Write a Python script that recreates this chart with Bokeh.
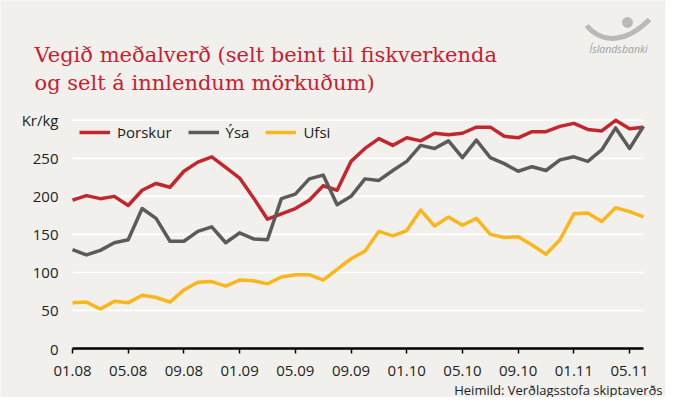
from bokeh.plotting import figure
from bokeh.models import FixedTicker, Label
from bokeh.embed import file_html
from bokeh.resources import INLINE

# ---- data (monthly, Jan 2008 .. Jun 2011) ----
months = list(range(42))
thorskur = [195, 201, 197, 200, 188, 208, 217, 212, 233, 245, 252, 238, 224,
            198, 170, 177, 184, 195, 214, 208, 246, 263, 276, 267, 277,
            273, 283, 281, 283, 291, 291, 279, 277, 285, 285, 292, 296,
            288, 286, 300, 289, 291]
ysa = [130, 123, 129, 139, 143, 184, 171, 141, 141, 154, 160, 139, 152,
       144, 143, 197, 203, 223, 228, 189, 200, 223, 221, 234, 246,
       267, 263, 273, 251, 274, 251, 243, 233, 239, 234, 248, 252,
       246, 261, 290, 263, 292]
ufsi = [60, 61, 52, 62, 60, 70, 67, 61, 77, 87, 88, 82, 90,
        89, 85, 94, 97, 97, 90, 104, 118, 128, 154, 148, 155,
        182, 161, 173, 162, 171, 150, 146, 147, 136, 124, 143, 177,
        178, 167, 185, 180, 173]
series_names = ["Þorskur", "Ýsa", "Ufsi"]
tick_positions = [0, 4, 8, 12, 16, 20, 24, 28, 32, 36, 40]
tick_labels = ["01.08", "05.08", "09.08", "01.09", "05.09", "09.09",
               "01.10", "05.10", "09.10", "01.11", "05.11"]
y_ticks = [0, 50, 100, 150, 200, 250, 300]
y_unit = "Kr/kg"
title_lines = ["Vegið meðalverð (selt beint til fiskverkenda",
               "og selt á innlendum mörkuðum)"]
source_text = "Heimild: Verðlagsstofa skiptaverðs"
logo_text = "Íslandsbanki"

# ---- geometry (pixels of the canvas, from top-left) ----
FW, FH = 665, 397
PX_LEFT, PX_RIGHT = 72, 643        # x of first / last month
PX_ZERO, PX_TOP = 348, 116         # y of value 0 / value 305
X_LAST, Y_TOP = 41, 305
kx = (PX_RIGHT - PX_LEFT) / X_LAST
ky = (PX_ZERO - PX_TOP) / Y_TOP
x_range = (-PX_LEFT / kx, X_LAST + (FW - PX_RIGHT) / kx)
y_range = (-(FH - PX_ZERO) / ky, PX_ZERO / ky)


def dx(px):
    return (px - PX_LEFT) / kx


def dy(py):
    return (PX_ZERO - py) / ky


BG = "#f1f0ed"
RED = "#c1272d"
GREY = "#5b5b5b"
YELLOW = "#fbb61b"
TXT = "#222222"
SANS = "Open Sans"
LOGO = "#b9b9b9"

p = figure(width=FW, height=FH, x_range=x_range, y_range=y_range,
           output_backend="svg", toolbar_location=None, min_border=0)
p.title = None
p.background_fill_color = BG
p.border_fill_color = BG
p.outline_line_color = None
p.xgrid.visible = False
p.ygrid.visible = False

# horizontal grid lines at the y ticks
grid_y = [t for t in y_ticks if t > 0]
p.segment(x0=[0] * len(grid_y), x1=[X_LAST] * len(grid_y), y0=grid_y,
          y1=grid_y, line_color="white", line_width=1.6)

for vals, name, col in [(thorskur, series_names[0], RED),
                        (ysa, series_names[1], GREY),
                        (ufsi, series_names[2], YELLOW)]:
    p.line(months, vals, line_color=col, line_width=3.5, line_join="round",
           legend_label=name)

xa = p.xaxis[0]
xa.fixed_location = 0
xa.bounds = (0, X_LAST)
xa.ticker = FixedTicker(ticks=tick_positions)
xa.major_label_overrides = {t: l for t, l in zip(tick_positions, tick_labels)}
xa.axis_line_color = "black"
xa.axis_line_width = 2.5
xa.major_tick_line_color = "black"
xa.major_tick_line_width = 1.5
xa.major_tick_in = 0
xa.major_tick_out = 5
xa.minor_tick_line_color = None
xa.major_label_text_font = SANS
xa.major_label_text_font_size = "15px"
xa.major_label_text_color = TXT
xa.major_label_standoff = 12

ya = p.yaxis[0]
ya.fixed_location = 0
ya.bounds = (0, 300)
ya.ticker = FixedTicker(ticks=y_ticks)
ya.major_label_overrides = {300: y_unit}
ya.axis_line_color = None
ya.major_tick_line_color = None
ya.minor_tick_line_color = None
ya.major_label_text_font = SANS
ya.major_label_text_font_size = "15px"
ya.major_label_text_color = TXT
ya.major_label_standoff = 8

lg = p.legend[0]
lg.orientation = "horizontal"
lg.location = (79, FH - 142)
lg.background_fill_alpha = 0
lg.border_line_color = None
lg.padding = 0
lg.margin = 0
lg.spacing = 16
lg.glyph_width = 31
lg.glyph_height = 20
lg.label_height = 20
lg.label_standoff = 7
lg.label_text_font = SANS
lg.label_text_font_size = "15px"
lg.label_text_color = TXT

# title
for i, line in enumerate(title_lines):
    p.add_layout(Label(x=dx(34), y=dy(54 + 28 * i), text=line,
                       text_font="DejaVu Serif", text_font_size="21px",
                       text_color="#c8202f", text_baseline="alphabetic"))

# logo
p.bezier(x0=[dx(586)], y0=[dy(25)], x1=[dx(649)], y1=[dy(19)],
         cx0=[dx(602)], cy0=[dy(44)], cx1=[dx(626)], cy1=[dy(42)],
         line_color=LOGO, line_width=5)
p.scatter([dx(627)], [dy(22)], size=10, color=LOGO)
p.add_layout(Label(x=dx(618), y=dy(48), text=logo_text, text_align="center",
                   text_baseline="middle", text_font=SANS,
                   text_font_style="italic", text_font_size="10.5px",
                   text_color="#a0a0a0"))

# source
p.add_layout(Label(x=dx(662), y=dy(389), text=source_text, text_align="right",
                   text_baseline="alphabetic", text_font=SANS,
                   text_font_size="13px", text_color=TXT))

html = file_html(p, INLINE)
html = html.replace("<body>", '<body style="background-color: %s;">' % BG, 1)
open("out.html", "w").write(html)
